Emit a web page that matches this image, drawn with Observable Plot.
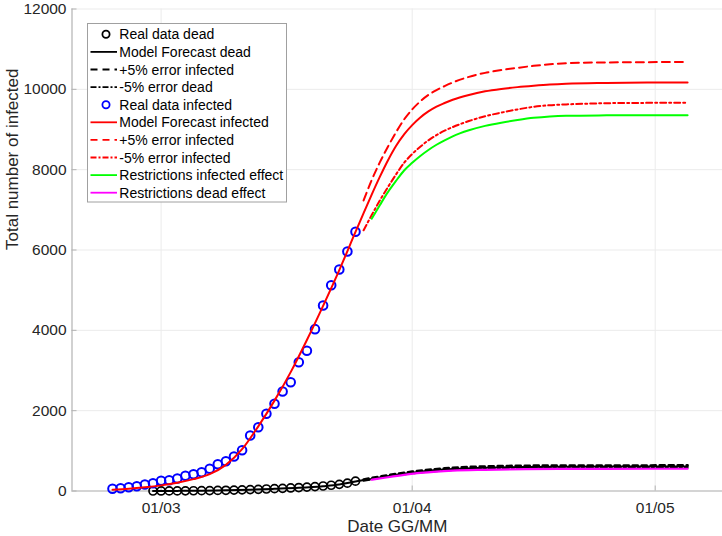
<!DOCTYPE html>
<html><head><meta charset="utf-8">
<script src="https://cdn.jsdelivr.net/npm/d3@7"></script>
<script src="https://cdn.jsdelivr.net/npm/@observablehq/plot@0.6"></script>
<style>
body{margin:0;background:#fff;}
#wrap{position:relative;width:722px;height:536px;font-family:"Liberation Sans",Arial,Helvetica,sans-serif;}
</style></head><body><div id="wrap"></div>
<script>
// ---------- data ----------
const yTicks = [0, 2000, 4000, 6000, 8000, 10000, 12000];
const xTickDates = ["2020-03-01", "2020-04-01", "2020-05-01"];

// real data infected, daily from 24 Feb
const infectedStart = "2020-02-24";
const infectedVals = [55, 70, 95, 120, 162, 194, 254, 269, 311, 378, 418, 468, 553, 667, 742, 859,
  1016, 1382, 1589, 1922, 2171, 2478, 2709, 3207, 3491, 4029, 4619, 5124, 5515, 5964, 6454];

// real data dead, daily from 29 Feb
const deadStart = "2020-02-29";
const deadVals = [0, 1, 2, 3, 4, 6, 8, 11, 14, 18, 23, 29, 35, 42, 50, 58, 67, 76, 86, 97, 110, 125, 143, 165, 195, 245];

// model forecast infected
const modelInfDates = ["2020-02-24","2020-02-26","2020-02-28","2020-03-01","2020-03-03","2020-03-05","2020-03-07",
  "2020-03-09","2020-03-11","2020-03-13","2020-03-15","2020-03-17","2020-03-19","2020-03-21","2020-03-23",
  "2020-03-25","2020-03-26","2020-03-27","2020-03-28","2020-03-29","2020-03-30","2020-03-31","2020-04-01",
  "2020-04-02","2020-04-03","2020-04-04","2020-04-05","2020-04-06","2020-04-08","2020-04-10","2020-04-12",
  "2020-04-14","2020-04-16","2020-04-18","2020-04-20","2020-04-25","2020-04-30","2020-05-05"];
const modelInfVals = [30, 55, 92, 140, 205, 295, 420, 650, 1040, 1610, 2250, 2960, 3760, 4610, 5500,
  6450, 6920, 7380, 7820, 8230, 8590, 8880, 9110, 9300, 9450, 9570, 9660, 9740, 9860, 9950, 10010,
  10055, 10090, 10120, 10140, 10160, 10170, 10172];

// error / restriction curves for infected share these dates (from 26 Mar)
const lateDates = ["2020-03-26","2020-03-27","2020-03-28","2020-03-29","2020-03-30","2020-03-31","2020-04-01",
  "2020-04-02","2020-04-03","2020-04-04","2020-04-05","2020-04-06","2020-04-08","2020-04-10","2020-04-12",
  "2020-04-14","2020-04-16","2020-04-18","2020-04-20","2020-04-25","2020-04-30","2020-05-05"];
// +5% error infected
const plusInfVals = [7233, 7740, 8180, 8570, 8930, 9250, 9500, 9700, 9860, 9980, 10080, 10170, 10310, 10410,
  10480, 10535, 10585, 10625, 10650, 10670, 10677, 10680];
// -5% error infected
const minusInfVals = [6490, 6870, 7230, 7565, 7880, 8170, 8390, 8570, 8730, 8860, 8970, 9060, 9210, 9330,
  9420, 9500, 9565, 9605, 9625, 9655, 9663, 9666];
// restrictions infected effect (starts 27 Mar)
const restrInfDates = lateDates.slice(1);
const restrInfVals = [6778, 7115, 7440, 7720, 7980, 8170, 8340, 8490, 8620, 8730, 8830, 8980, 9090, 9170,
  9235, 9290, 9325, 9342, 9352, 9356, 9357];

// model forecast dead
const modelDeadDates = ["2020-02-29","2020-03-03","2020-03-06","2020-03-09","2020-03-12","2020-03-15","2020-03-18",
  "2020-03-21","2020-03-23","2020-03-25","2020-03-27","2020-03-29","2020-03-31","2020-04-02","2020-04-04",
  "2020-04-06","2020-04-10","2020-04-15","2020-04-20","2020-04-25","2020-05-05"];
const modelDeadVals = [0, 3, 8, 18, 33, 55, 80, 120, 160, 235, 300, 370, 432, 482, 520, 548, 580, 597, 604, 607, 608];

// +5% / -5% error dead
const errDeadDates = ["2020-03-26","2020-03-28","2020-03-30","2020-04-01","2020-04-03","2020-04-05","2020-04-08",
  "2020-04-12","2020-04-17","2020-04-25","2020-05-05"];
const plusDeadVals = [285, 360, 425, 482, 528, 563, 598, 620, 632, 636, 637];
const minusDeadVals = [255, 328, 390, 438, 478, 508, 538, 558, 571, 577, 578];

// restrictions dead effect
const restrDeadDates = ["2020-03-27","2020-03-29","2020-03-31","2020-04-02","2020-04-04","2020-04-06","2020-04-10",
  "2020-04-15","2020-04-20","2020-04-25","2020-05-05"];
const restrDeadVals = [280, 342, 400, 450, 484, 507, 528, 544, 550, 553, 554];

const legendLabels = ["Real data dead", "Model Forecast dead", "+5% error infected", "-5% error dead",
  "Real data infected", "Model Forecast infected", "+5% error infected", "-5% error infected",
  "Restrictions infected effect", "Restrictions dead effect"];

// ---------- build ----------
const parse = d3.utcParse("%Y-%m-%d");
const pairs = (dates, vals) => vals.map((v, i) => ({date: parse(dates[i]), v}));
const daily = (start, vals) => vals.map((v, i) => ({date: d3.utcDay.offset(parse(start), i), v}));

const infected = daily(infectedStart, infectedVals);
const dead = daily(deadStart, deadVals);
const modelInf = pairs(modelInfDates, modelInfVals);
const plusInf = pairs(lateDates, plusInfVals);
const minusInf = pairs(lateDates, minusInfVals);
const restrInf = pairs(restrInfDates, restrInfVals);
const modelDead = pairs(modelDeadDates, modelDeadVals);
const plusDead = pairs(errDeadDates, plusDeadVals);
const minusDead = pairs(errDeadDates, minusDeadVals);
const restrDead = pairs(restrDeadDates, restrDeadVals);
const xTicks = xTickDates.map(parse);

const x0 = parse("2020-02-19");
const x1 = new Date(+x0 + 80.31 * 864e5);
const axisColor = "#b3b3b3";
const gridColor = "#ebebeb";
const labelColor = "#262626";
const curve = "monotone-x";

const chart = Plot.plot({
  width: 722, height: 536,
  marginLeft: 71.5, marginRight: 0, marginTop: 8.5, marginBottom: 45.5,
  style: {fontFamily: '"Liberation Sans", Arial, Helvetica, sans-serif', fontSize: "15.5px", background: "#fff", color: labelColor},
  x: {type: "utc", domain: [x0, x1]},
  y: {domain: [0, 12000]},
  marks: [
    Plot.gridY(yTicks, {stroke: gridColor, strokeOpacity: 1}),
    Plot.gridX(xTicks, {stroke: gridColor, strokeOpacity: 1}),
    Plot.ruleY([0], {stroke: axisColor, strokeWidth: 1.2}),
    Plot.ruleX([x0], {stroke: axisColor, strokeWidth: 1.2}),
    Plot.ruleX(xTicks, {x: d => d, y1: 0, y2: 0, insetBottom: 5, stroke: axisColor}),
    Plot.ruleY(yTicks, {y: d => d, x1: x0, x2: x0, insetRight: -5, stroke: axisColor}),
    Plot.axisY(yTicks, {tickSize: 0, tickPadding: 5.5, tickFormat: d => String(d), label: null, fill: labelColor}),
    Plot.axisX(xTicks, {tickSize: 0, tickPadding: 11, tickFormat: d3.utcFormat("%d/%m"), label: null, fill: labelColor}),
    Plot.text(["Total number of infected"], {frameAnchor: "left", rotate: -90, dx: -59.5, fontSize: 17, fill: labelColor, text: d => d}),
    Plot.text(["Date GG/MM"], {frameAnchor: "bottom", dy: 40.5, fontSize: 17, fill: labelColor, text: d => d}),
    // dead
    Plot.dot(dead, {x: "date", y: "v", r: 4, stroke: "#000", strokeWidth: 1.7, fill: "none"}),
    Plot.line(modelDead, {x: "date", y: "v", stroke: "#000", strokeWidth: 2, curve}),
    Plot.line(plusDead, {x: "date", y: "v", stroke: "#000", strokeWidth: 2.6, strokeDasharray: "5,4", curve}),
    Plot.line(minusDead, {x: "date", y: "v", stroke: "#000", strokeWidth: 2, strokeDasharray: "6,3,2,3", curve}),
    // infected
    Plot.dot(infected, {x: "date", y: "v", r: 4.3, stroke: "#0000ff", strokeWidth: 2, fill: "none"}),
    Plot.line(modelInf, {x: "date", y: "v", stroke: "#ff0000", strokeWidth: 2, curve}),
    Plot.line(plusInf, {x: "date", y: "v", stroke: "#ff0000", strokeWidth: 2, strokeDasharray: "8,5", curve}),
    Plot.line(minusInf, {x: "date", y: "v", stroke: "#ff0000", strokeWidth: 2, strokeDasharray: "6,3,2,3", curve}),
    Plot.line(restrInf, {x: "date", y: "v", stroke: "#00ff00", strokeWidth: 2, curve}),
    Plot.line(restrDead, {x: "date", y: "v", stroke: "#ff00ff", strokeWidth: 2.2, curve})
  ]
});
const wrap = document.getElementById("wrap");
wrap.appendChild(chart);

// ---------- legend ----------
const legendStyles = [
  {marker: "#000"},
  {stroke: "#000", dash: null},
  {stroke: "#000", dash: "7,5"},
  {stroke: "#000", dash: "6,2,2,2"},
  {marker: "#0000ff"},
  {stroke: "#ff0000", dash: null},
  {stroke: "#ff0000", dash: "7,5"},
  {stroke: "#ff0000", dash: "6,2,2,2"},
  {stroke: "#00ff00", dash: null},
  {stroke: "#ff00ff", dash: null}
];
const lg = d3.select(wrap).append("svg").attr("id", "legend")
  .attr("width", 722).attr("height", 536)
  .style("position", "absolute").style("left", "0px").style("top", "0px");
lg.append("rect").attr("x", 87.5).attr("y", 23.5).attr("width", 199).attr("height", 178.5)
  .attr("fill", "#fff").attr("stroke", "#a0a0a0").attr("stroke-width", 1);
legendLabels.forEach((lab, i) => {
  const cy = 34.3 + i * 17.6;
  const s = legendStyles[i];
  if (s.marker) {
    lg.append("circle").attr("cx", 106).attr("cy", cy).attr("r", 3.6)
      .attr("fill", "none").attr("stroke", s.marker).attr("stroke-width", 1.8);
  } else {
    lg.append("line").attr("x1", 90.5).attr("x2", 117).attr("y1", cy).attr("y2", cy)
      .attr("stroke", s.stroke).attr("stroke-width", 1.8)
      .attr("stroke-dasharray", s.dash);
  }
  lg.append("text").attr("x", 119.3).attr("y", cy).attr("dy", "0.36em")
    .attr("font-size", 14).attr("fill", "#000")
    .attr("font-family", '"Liberation Sans", Arial, Helvetica, sans-serif')
    .text(lab);
});
</script></body></html>
